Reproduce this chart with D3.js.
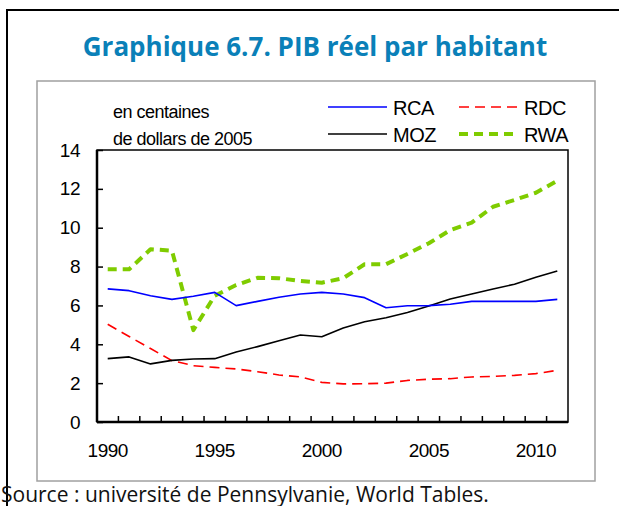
<!DOCTYPE html>
<html lang="fr">
	<head>
		<meta charset="utf-8">
		<title>Graphique 6.7. PIB réel par habitant</title>
		<script src="https://d3js.org/d3.v7.min.js"></script>
		<style type="text/css">
			body { margin: 0; background: #fff; }
			svg { display: block; }
		</style>
	</head>
	<body>
		<script type="text/javascript">
			//Data (en centaines de dollars de 2005)
			var years = d3.range(1990, 2012);
			var yearLabels = [1990, 1995, 2000, 2005, 2010];
			var yTicks = [0, 2, 4, 6, 8, 10, 12, 14];
			var seriesNames = ["RCA", "RDC", "MOZ", "RWA"];

			var rca = [6.85, 6.76, 6.50, 6.31, 6.47, 6.67, 5.99, 6.21, 6.42, 6.59, 6.67,
			           6.59, 6.40, 5.88, 5.98, 5.99, 6.06, 6.21, 6.21, 6.21, 6.21, 6.31];
			var rdc = [5.03, 4.40, 3.78, 3.16, 2.90, 2.81, 2.73, 2.59, 2.42, 2.32, 2.04,
			           1.96, 1.97, 2.00, 2.14, 2.20, 2.23, 2.32, 2.35, 2.40, 2.49, 2.66];
			var moz = [3.26, 3.35, 2.99, 3.17, 3.24, 3.26, 3.60, 3.88, 4.18, 4.48, 4.39,
			           4.84, 5.16, 5.37, 5.64, 5.97, 6.33, 6.59, 6.85, 7.09, 7.45, 7.77];
			var rwa = [7.86, 7.86, 8.89, 8.82, 4.73, 6.50, 7.05, 7.42, 7.40, 7.26, 7.17,
			           7.40, 8.12, 8.12, 8.65, 9.20, 9.88, 10.26, 11.08, 11.43, 11.80, 12.42];

			//Width and height
			var w = 619;
			var h = 506;

			var svg = d3.select("body")
						.append("svg")
						.attr("width", w)
						.attr("height", h);

			//outer black frame
			svg.append("path")
				.attr("d", "M7,506 V10 H619")
				.style("fill", "none")
				.style("stroke", "#000")
				.style("stroke-width", 2);

			//title
			svg.append("text")
				.attr("x", 315)
				.attr("y", 56)
				.attr("text-anchor", "middle")
				.style("font-family", "'Open Sans', sans-serif")
				.style("font-weight", "bold")
				.style("font-size", "26px")
				.style("fill", "#0a80b8")
				.text("Graphique 6.7. PIB réel par habitant");

			//grey chart box
			svg.append("rect")
				.attr("x", 37)
				.attr("y", 81)
				.attr("width", 558)
				.attr("height", 400)
				.style("fill", "none")
				.style("stroke", "#a0a0a0")
				.style("stroke-width", 1.5);

			//plot area
			var pLeft = 97, pTop = 150, pRight = 568, pBottom = 422;

			var x = d3.scaleBand()
				.domain(years)
				.range([pLeft, pRight]);

			var y = d3.scaleLinear()
				.domain([0, 14])
				.range([pBottom, pTop]);

			var font = "'Liberation Sans', Arial, sans-serif";

			//y axis labels and inner ticks
			var yAxis = d3.axisLeft(y)
				.tickValues(yTicks)
				.tickSize(-6)
				.tickPadding(17);

			var gy = svg.append("g")
				.attr("transform", "translate(" + pLeft + ",0)")
				.call(yAxis);
			gy.select(".domain").remove();
			gy.selectAll("line").style("stroke", "#000").style("stroke-width", 1.5);
			gy.selectAll("text")
				.style("font-family", font)
				.style("font-size", "19px")
				.style("letter-spacing", "-0.5px")
				.style("fill", "#000");

			//x axis: ticks between categories, labels every 5 years
			var gx = svg.append("g");
			gx.selectAll("line")
				.data(years.slice(1))
				.enter()
				.append("line")
				.attr("x1", function(d) { return x(d); })
				.attr("x2", function(d) { return x(d); })
				.attr("y1", pBottom)
				.attr("y2", pBottom - 6)
				.style("stroke", "#000")
				.style("stroke-width", 1.5);
			gx.selectAll("text")
				.data(yearLabels)
				.enter()
				.append("text")
				.attr("x", function(d) { return x(d) + x.bandwidth() / 2; })
				.attr("y", 457)
				.attr("text-anchor", "middle")
				.style("font-family", font)
				.style("font-size", "19px")
				.style("letter-spacing", "-0.5px")
				.text(function(d) { return d; });

			//plot frame
			svg.append("rect")
				.attr("x", pLeft)
				.attr("y", pTop)
				.attr("width", pRight - pLeft)
				.attr("height", pBottom - pTop)
				.style("fill", "none")
				.style("stroke", "#000")
				.style("stroke-width", 1.5);
			svg.append("line")
				.attr("x1", pLeft).attr("x2", pLeft)
				.attr("y1", pTop).attr("y2", pBottom)
				.style("stroke", "#000")
				.style("stroke-width", 2.5);
			svg.append("line")
				.attr("x1", pLeft).attr("x2", pRight)
				.attr("y1", pBottom).attr("y2", pBottom)
				.style("stroke", "#000")
				.style("stroke-width", 2.5);

			//series styles
			var styles = {
				RCA: { data: rca, color: "#0000ff", width: 1.6, dash: null },
				RDC: { data: rdc, color: "#ff0000", width: 1.6, dash: "10,6" },
				MOZ: { data: moz, color: "#000000", width: 1.6, dash: null },
				RWA: { data: rwa, color: "#7fcc00", width: 4, dash: "9,6" }
			};

			var line = d3.line()
				.x(function(d, i) { return x(years[i]) + x.bandwidth() / 2; })
				.y(function(d) { return y(d); });

			["RWA", "RDC", "MOZ", "RCA"].forEach(function(name) {
				var s = styles[name];
				svg.append("path")
					.attr("d", line(s.data))
					.style("fill", "none")
					.style("stroke", s.color)
					.style("stroke-width", s.width)
					.style("stroke-dasharray", s.dash)
					.style("stroke-linejoin", "round");
			});

			//units note
			svg.append("text")
				.attr("x", 113)
				.attr("y", 118)
				.style("font-family", font)
				.style("font-size", "18px")
				.style("letter-spacing", "-0.5px")
				.text("en centaines");
			svg.append("text")
				.attr("x", 113)
				.attr("y", 145)
				.style("font-family", font)
				.style("font-size", "18px")
				.style("letter-spacing", "-0.5px")
				.text("de dollars de  2005");

			//legend, two rows
			var legendPos = {
				RCA: [328, 107], RDC: [459, 107],
				MOZ: [328, 134], RWA: [459, 134]
			};
			seriesNames.forEach(function(name) {
				var s = styles[name], p = legendPos[name];
				svg.append("line")
					.attr("x1", p[0]).attr("x2", p[0] + 59)
					.attr("y1", p[1]).attr("y2", p[1])
					.style("stroke", s.color)
					.style("stroke-width", s.width)
					.style("stroke-dasharray", s.dash);
				svg.append("text")
					.attr("x", p[0] + 65)
					.attr("y", p[1] + 8)
					.style("font-family", font)
					.style("font-size", "20px")
					.style("letter-spacing", "-0.5px")
					.text(name);
			});

			//source
			svg.append("text")
				.attr("x", 1)
				.attr("y", 502)
				.style("font-family", "'Open Sans', sans-serif")
				.style("font-size", "21px")
				.style("fill", "#111")
				.text("Source : université de Pennsylvanie, World Tables.");
		</script>
	</body>
</html>
